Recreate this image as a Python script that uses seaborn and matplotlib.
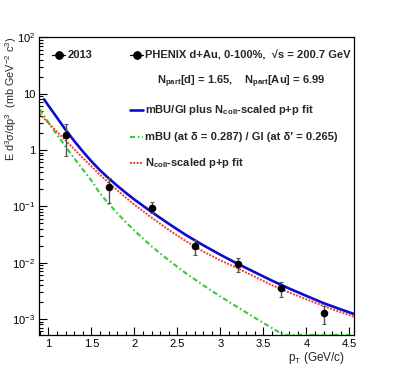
import numpy as np
import pandas as pd
import matplotlib
matplotlib.use("Agg")
import matplotlib.pyplot as plt
from matplotlib.ticker import FixedLocator, FixedFormatter, MultipleLocator, LogLocator, NullFormatter
import seaborn as sns

# data points (PHENIX d+Au, 2013)
pt_data = [1.2, 1.7, 2.2, 2.7, 3.2, 3.7, 4.2]
y_data = [1.84, 0.22, 0.094, 0.020, 0.0093, 0.0036, 0.00128]
y_err_lo = [1.05, 0.105, 0.018, 0.0066, 0.0026, 0.0011, 0.00047]
y_err_hi = [1.06, 0.10, 0.024, 0.0050, 0.0027, 0.0010, 0.00042]

# mBU/GI plus Ncoll-scaled p+p fit
pt_blue = [0.95, 1.0, 1.1, 1.2, 1.3, 1.4, 1.5, 1.6, 1.7, 1.8, 1.9, 2.0, 2.2, 2.4, 2.6, 2.8,
           3.0, 3.2, 3.4, 3.6, 3.8, 4.0, 4.2, 4.4, 4.55]
y_blue = [7.94, 6.17, 3.76, 2.29, 1.45, 0.944, 0.631, 0.437, 0.316, 0.232, 0.174, 0.132,
          0.0794, 0.049, 0.0309, 0.0204, 0.0138, 0.00955, 0.00676, 0.00479, 0.00347,
          0.00257, 0.00191, 0.00148, 0.00123]

# mBU (at delta = 0.287) / GI (at delta' = 0.265)
pt_green = [0.9, 1.0, 1.1, 1.2, 1.3, 1.4, 1.5, 1.6, 1.7, 1.8, 1.9, 2.0, 2.2, 2.4, 2.6, 2.8,
            3.0, 3.2, 3.4, 3.6, 3.7, 3.74, 4.54]
y_green = [5.25, 3.09, 1.86, 1.15, 0.716, 0.452, 0.288, 0.17, 0.112, 0.0759, 0.0525, 0.0372,
           0.0195, 0.011, 0.00646, 0.00398, 0.00251, 0.00162, 0.00105, 0.00069, 0.000562,
           0.00052, 0.00052]

# Ncoll-scaled p+p fit
pt_red = [0.9, 1.0, 1.1, 1.2, 1.3, 1.4, 1.5, 1.6, 1.7, 1.8, 1.9, 2.0, 2.2, 2.4, 2.6, 2.8,
          3.0, 3.2, 3.4, 3.6, 3.8, 4.0, 4.2, 4.4, 4.55]
y_red = [4.37, 3.02, 2.11, 1.48, 1.035, 0.724, 0.513, 0.363, 0.263, 0.193, 0.143, 0.107,
         0.0631, 0.038, 0.024, 0.0158, 0.011, 0.00794, 0.00562, 0.00398, 0.00295, 0.00224,
         0.0017, 0.00132, 0.0011]

x_ticks = [1, 1.5, 2, 2.5, 3, 3.5, 4, 4.5]
x_ticklabels = ["1", "1.5", "2", "2.5", "3", "3.5", "4", "4.5"]
y_ticks = [1e-3, 1e-2, 1e-1, 1, 10, 100]
y_ticklabels = ["10$^{-3}$", "10$^{-2}$", "10$^{-1}$", "1", "10", "10$^{2}$"]

sns.set_style("ticks")
plt.rcParams["font.family"] = ["Liberation Sans", "DejaVu Sans"]
plt.rcParams["mathtext.fontset"] = "custom"
plt.rcParams["mathtext.rm"] = "Liberation Sans"
plt.rcParams["mathtext.it"] = "Liberation Sans:italic"
plt.rcParams["mathtext.bf"] = "Liberation Sans:bold"

W, H = 394, 373
fig = plt.figure(figsize=(W / 100, H / 100), dpi=100)
L, R, T, B = 39.3, 353.5, 37.3, 335.0
fig.subplots_adjust(left=L / W, right=R / W, bottom=1 - B / H, top=1 - T / H)
ax = fig.add_subplot(111)

blue = "#0c0ccf"
green = "#33cc33"
red = "#f23a3a"
green_ls = (0, (2.4, 1.3, 0.8, 1.3))
red_ls = (0, (1, 0.7))

sns.lineplot(x=pt_blue, y=y_blue, ax=ax, color=blue, lw=1.9, estimator=None, sort=False)
sns.lineplot(x=pt_green, y=y_green, ax=ax, color=green, lw=1.5, estimator=None, sort=False,
             clip_on=False, linestyle=green_ls)
sns.lineplot(x=pt_red, y=y_red, ax=ax, color=red, lw=1.4, estimator=None, sort=False,
             linestyle=red_ls)

ax.errorbar(pt_data, y_data, yerr=[y_err_lo, y_err_hi], fmt="none", ecolor="#555555",
            elinewidth=1.0, capsize=1.5, capthick=0.8, zorder=4)
df = pd.DataFrame({"pt": pt_data, "y": y_data})
sns.scatterplot(data=df, x="pt", y="y", ax=ax, color="black", s=30, edgecolor="black",
                linewidth=0, zorder=5)

ax.set_yscale("log")
ax.set_xlim(0.895, 4.547)
ax.set_ylim(5.2e-4, 100)

ax.xaxis.set_major_locator(FixedLocator(x_ticks))
ax.xaxis.set_major_formatter(FixedFormatter(x_ticklabels))
ax.xaxis.set_minor_locator(MultipleLocator(0.1))
ax.yaxis.set_major_locator(FixedLocator(y_ticks))
ax.yaxis.set_major_formatter(FixedFormatter(y_ticklabels))
ax.yaxis.set_minor_locator(LogLocator(base=10, subs=np.arange(2, 10), numticks=20))
ax.yaxis.set_minor_formatter(NullFormatter())

ax.tick_params(which="both", direction="in", top=False, right=False, width=0.8,
               labelsize=8, colors="black")
ax.tick_params(which="major", length=5.5, pad=3)
ax.tick_params(which="minor", length=2.8)
for s in ax.spines.values():
    s.set_linewidth(0.9)
    s.set_color("black")

ax.set_xlabel("p$_{\\mathrm{T}}$ (GeV/c)", fontsize=8.5, loc="right")
ax.xaxis.set_label_coords(0.973, -0.052)
ax.set_ylabel("E d$^{3}$\u03c3/dp$^{3}$  (mb GeV$^{-2}$ c$^{3}$)", fontsize=7.8, loc="top")
ax.yaxis.set_label_coords(-0.066, 1.0)


def ax_xy(px, py):
    return (px - L) / (R - L), (B - py) / (B - T)


def legend_text(px, py, s):
    x, y = ax_xy(px, py)
    ax.text(x, y, s, transform=ax.transAxes, fontsize=8, fontweight="bold",
            va="center", ha="left")


def legend_line(px0, px1, py, **kw):
    x0, y0 = ax_xy(px0, py)
    x1, _ = ax_xy(px1, py)
    ax.plot([x0, x1], [y0, y0], transform=ax.transAxes, clip_on=False, **kw)


# data legend entries
legend_line(52, 65, 55, color="black", lw=0.9)
legend_line(58.5, 58.5, 55, color="black", marker="o", ms=5, lw=0)
legend_text(68, 55, "2013")
legend_line(130, 143, 55, color="black", lw=0.9)
legend_line(137, 137, 55, color="black", marker="o", ms=5, lw=0)
legend_text(145, 55, "PHENIX d+Au, 0-100%,  \u221as = 200.7 GeV")
legend_text(157, 82, "N$_{\\mathbf{part}}$[d] = 1.65,    N$_{\\mathbf{part}}$[Au] = 6.99")

legend_line(130, 143, 110, color=blue, lw=1.9)
legend_text(145, 110, "mBU/GI plus N$_{\\mathbf{coll}}$-scaled p+p fit")
legend_line(130, 143, 137, color=green, lw=1.5, linestyle=green_ls)
legend_text(145, 137, "mBU (at \u03b4 = 0.287) / GI (at \u03b4\u2032 = 0.265)")
legend_line(130, 143, 163, color=red, lw=1.4, linestyle=red_ls)
legend_text(145, 163, "N$_{\\mathbf{coll}}$-scaled p+p fit")

fig.savefig("out.png", dpi=100)
